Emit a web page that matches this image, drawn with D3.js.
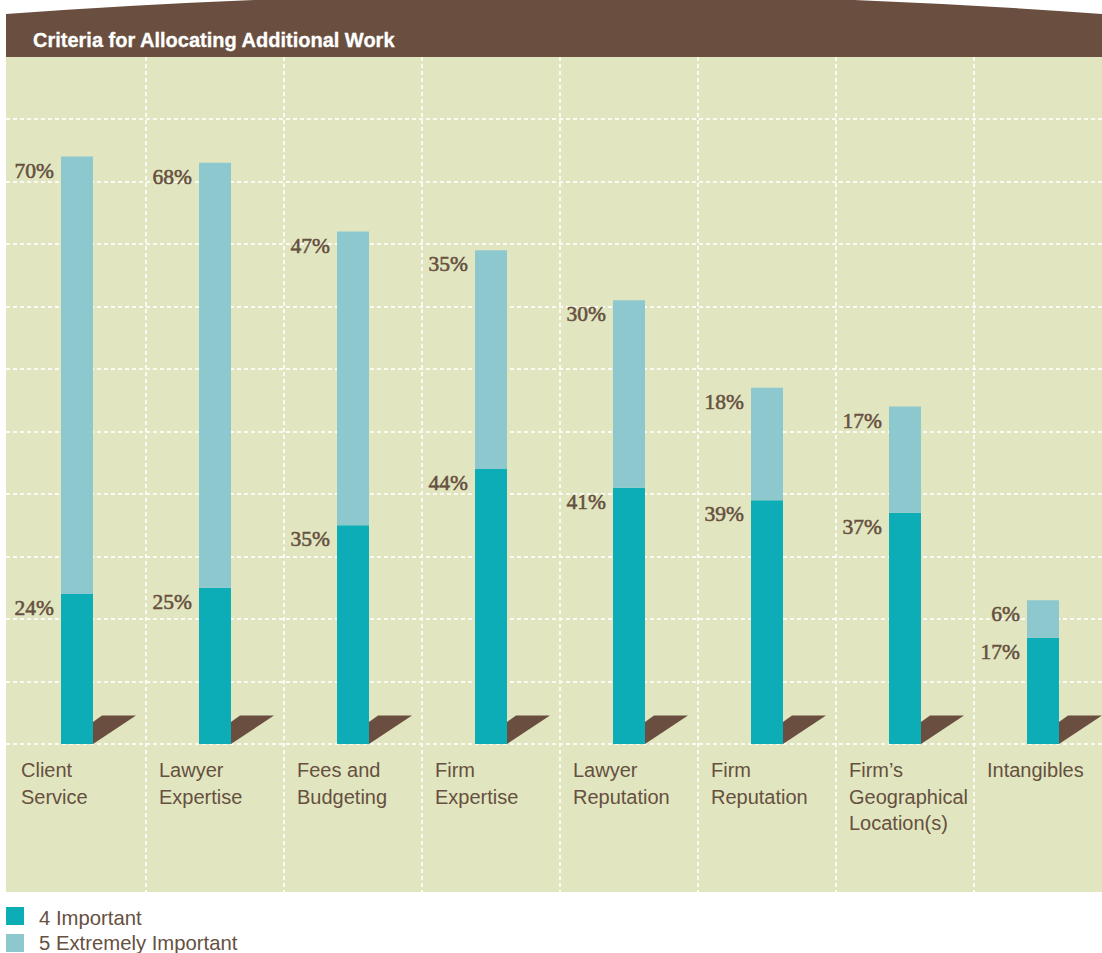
<!DOCTYPE html>
<html>
<head>
<meta charset="utf-8">
<script src="https://cdn.jsdelivr.net/npm/d3@7"></script>
<style>
  html, body { margin: 0; padding: 0; background: #ffffff; }
  svg { display: block; }
</style>
</head>
<body>
<svg id="chart" width="1102" height="953"></svg>
<script>
// Survey results: share of respondents rating each criterion 4 or 5
const categories = [
  ["Client", "Service"],
  ["Lawyer", "Expertise"],
  ["Fees and", "Budgeting"],
  ["Firm", "Expertise"],
  ["Lawyer", "Reputation"],
  ["Firm", "Reputation"],
  ["Firm\u2019s", "Geographical", "Location(s)"],
  ["Intangibles"]
];
const important = [24, 25, 35, 44, 41, 39, 37, 17];          // 4 Important
const extremelyImportant = [70, 68, 47, 35, 30, 18, 17, 6];  // 5 Extremely Important
const gridTicks = [0, 10, 20, 30, 40, 50, 60, 70, 80, 90, 100];
const seriesNames = ["4 Important", "5 Extremely Important"];

const colors = {
  important: "#0cadb7",
  extreme: "#8dc8cf",
  panel: "#e1e6c0",
  brown: "#6a4f40",
  text: "#66503f",
  grid: "#fbfbf3"
};

const svg = d3.select("#chart");

const panel = { left: 6, right: 1102, top: 57, bottom: 892 };
const baseY = 744;

const keys = categories.map(c => c.join(" "));
const x = d3.scaleBand().domain(keys).range([8, 8 + 138 * keys.length]).padding(0);
const y = d3.scaleLinear().domain([0, 100]).range([baseY, 119]);
const barOffset = 53, barWidth = 32;

// panel background
svg.append("rect")
  .attr("x", panel.left).attr("y", panel.top)
  .attr("width", panel.right - panel.left).attr("height", panel.bottom - panel.top)
  .attr("fill", colors.panel);

// title band with a gently arched top edge
svg.append("path")
  .attr("d", `M${panel.left},${panel.top} L${panel.left},14 Q554,-26 ${panel.right},14 L${panel.right},${panel.top} Z`)
  .attr("fill", colors.brown);

svg.append("text")
  .attr("x", 33).attr("y", 47)
  .attr("fill", "#ffffff")
  .attr("stroke", "#ffffff").attr("stroke-width", 0.3)
  .attr("font-family", "'Liberation Sans', Arial, sans-serif")
  .attr("font-weight", "bold")
  .attr("font-size", 20)
  .text("Criteria for Allocating Additional Work");

// dashed grid: horizontal every 10%, vertical between columns
const grid = svg.append("g")
  .attr("stroke", colors.grid)
  .attr("stroke-width", 2)
  .attr("stroke-dasharray", "4,3");

grid.selectAll("line.h")
  .data(gridTicks)
  .join("line")
  .attr("class", "h")
  .attr("x1", panel.left).attr("x2", panel.right)
  .attr("y1", d => Math.round(y(d))).attr("y2", d => Math.round(y(d)));

grid.selectAll("line.v")
  .data(keys.slice(1))
  .join("line")
  .attr("class", "v")
  .attr("x1", d => x(d)).attr("x2", d => x(d))
  .attr("y1", panel.top).attr("y2", panel.bottom);

// stacked bars
const rows = keys.map((k, i) => ({ key: k, lines: categories[i], imp: important[i], ext: extremelyImportant[i] }));

const bars = svg.append("g").selectAll("g")
  .data(rows)
  .join("g")
  .attr("transform", d => `translate(${x(d.key) + barOffset},0)`);

// floor shadow to the right of each bar
bars.append("path")
  .attr("d", () => {
    const r = barWidth;
    return `M${r},${baseY - 22} L${r + 9},${baseY - 28.5} L${r + 43},${baseY - 28.5} L${r},${baseY} Z`;
  })
  .attr("fill", colors.brown);

bars.append("rect")
  .attr("x", 0).attr("width", barWidth)
  .attr("y", d => y(d.imp))
  .attr("height", d => y(0) - y(d.imp))
  .attr("fill", colors.important);

bars.append("rect")
  .attr("x", 0).attr("width", barWidth)
  .attr("y", d => y(d.imp + d.ext))
  .attr("height", d => y(d.imp) - y(d.imp + d.ext))
  .attr("fill", colors.extreme);

// value labels beside each segment top
const valueFont = "'Liberation Serif', 'Times New Roman', serif";
function valueLabel(sel, yOf, textOf) {
  sel.append("text")
    .attr("x", -7).attr("y", yOf)
    .attr("text-anchor", "end")
    .attr("font-family", valueFont).attr("font-size", 21.5)
    .attr("fill", colors.text)
    .attr("stroke", colors.text).attr("stroke-width", 0.55)
    .text(textOf);
}
valueLabel(bars, d => y(d.imp + d.ext) + 21, d => d.ext + "%");
valueLabel(bars, d => y(d.imp) + 21, d => d.imp + "%");

// category names under the baseline
bars.append("text")
  .attr("x", -40).attr("y", 777)
  .attr("font-family", "'Liberation Sans', Arial, sans-serif")
  .attr("font-size", 20)
  .attr("fill", colors.text)
  .selectAll("tspan")
  .data(d => d.lines)
  .join("tspan")
  .attr("x", -40)
  .attr("dy", (d, i) => i === 0 ? 0 : 26.7)
  .text(d => d);

// legend
const legend = svg.append("g").selectAll("g")
  .data(seriesNames)
  .join("g")
  .attr("transform", (d, i) => `translate(6,${907 + i * 27})`);

legend.append("rect")
  .attr("width", 18).attr("height", 18)
  .attr("fill", (d, i) => i === 0 ? colors.important : colors.extreme);

legend.append("text")
  .attr("x", 33).attr("y", (d, i) => i === 0 ? 18 : 16)
  .attr("font-family", "'Liberation Sans', Arial, sans-serif")
  .attr("font-size", 20.3)
  .attr("fill", colors.text)
  .text(d => d);
</script>
</body>
</html>
